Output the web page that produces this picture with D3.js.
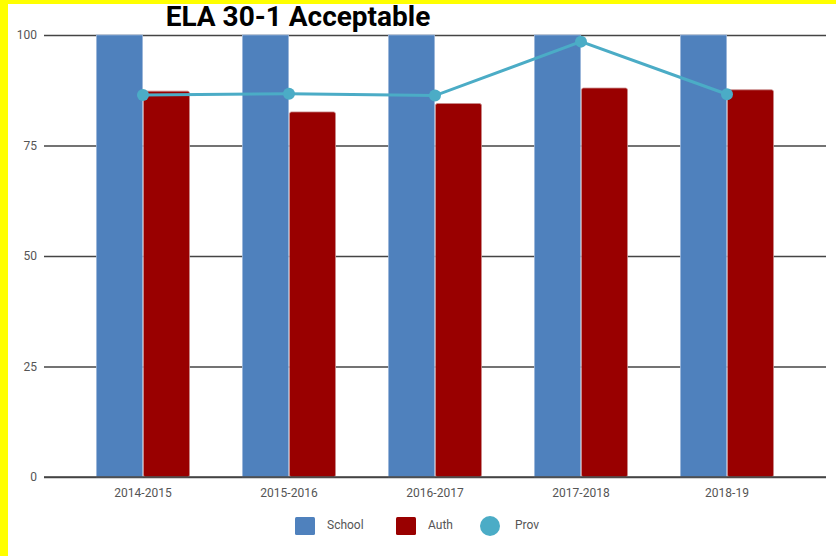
<!DOCTYPE html>
<html>
<head>
<meta charset="utf-8">
<script src="https://cdn.jsdelivr.net/npm/d3@7"></script>
<style>
    body { margin: 0; background: #fff; }
    svg { display: block; }
</style>
</head>
<body>
<svg id="chart"></svg>
<script>
// chart data
const categories = ["2014-2015", "2015-2016", "2016-2017", "2017-2018", "2018-19"];
const schoolValues = [100, 100, 100, 100, 100];
const authValues = [87.3, 82.6, 84.5, 88.0, 87.6];
const provValues = [86.4, 86.7, 86.3, 98.5, 86.6];
const yTicks = [0, 25, 50, 75, 100];
const seriesNames = ["School", "Auth", "Prov"];
const colors = {School: "#4f81bd", Auth: "#990000", Prov: "#4bacc6"};

const width = 836, height = 556;

const svg = d3.select("#chart")
    .attr("width", width)
    .attr("height", height);

// frame: white page with yellow strip top and left
svg.append("rect").attr("width", width).attr("height", height).attr("fill", "#ffff00");
svg.append("rect").attr("x", 8).attr("y", 4).attr("width", width - 8).attr("height", height - 4).attr("fill", "#fff");

const x = d3.scaleBand()
    .domain(categories)
    .range([70, 800]);

const xInner = d3.scaleBand()
    .domain(["School", "Auth"])
    .range([0, 94]);

const y = d3.scaleLinear()
    .domain([0, 100])
    .range([477, 35]);

// gridlines
const yAxis = d3.axisLeft(y)
    .tickValues(yTicks)
    .tickSize(-(826 - 44))
    .tickPadding(7);

const yAxisG = svg.append("g")
    .attr("transform", "translate(44,0)")
    .call(yAxis);
yAxisG.select(".domain").remove();
yAxisG.selectAll(".tick line")
    .attr("stroke", "#444")
    .attr("stroke-width", 1.6);
yAxisG.selectAll(".tick text")
    .attr("fill", "#555")
    .style("font-family", "Roboto, sans-serif")
    .style("font-size", "12px");

// bars
const groups = svg.append("g").selectAll("g")
    .data(categories)
    .enter().append("g")
    .attr("transform", d => "translate(" + (x(d) + x.bandwidth() / 2 - 47) + ",0)");

groups.each(function (cat, i) {
    const g = d3.select(this);
    [["School", schoolValues[i]], ["Auth", authValues[i]]].forEach(([name, v]) => {
        g.append("rect")
            .attr("x", xInner(name) + 0.5)
            .attr("width", xInner.bandwidth() - 1)
            .attr("y", y(v))
            .attr("height", y(0) - y(v))
            .attr("rx", name === "Auth" ? 2 : 0)
            .attr("fill", colors[name])
            .attr("stroke", name === "Auth" ? "#c98a8a" : "#9ab5d9")
            .attr("stroke-width", 0.8);
    });
});

// baseline redrawn over bars
svg.append("line")
    .attr("x1", 44).attr("x2", 826)
    .attr("y1", y(0)).attr("y2", y(0))
    .attr("stroke", "#444").attr("stroke-width", 1.6);

// x axis labels
const xAxis = d3.axisBottom(x).tickSize(0).tickPadding(11);
const xAxisG = svg.append("g")
    .attr("transform", "translate(0," + y(0) + ")")
    .call(xAxis);
xAxisG.select(".domain").remove();
xAxisG.selectAll("text")
    .attr("fill", "#555")
    .style("font-family", "Roboto, sans-serif")
    .style("font-size", "12px");

// prov line
const line = d3.line()
    .x((d, i) => x(categories[i]) + x.bandwidth() / 2)
    .y(d => y(d));

svg.append("path")
    .datum(provValues)
    .attr("d", line)
    .attr("fill", "none")
    .attr("stroke", colors.Prov)
    .attr("stroke-width", 3);

svg.append("g").selectAll("circle")
    .data(provValues)
    .enter().append("circle")
    .attr("cx", (d, i) => x(categories[i]) + x.bandwidth() / 2)
    .attr("cy", d => y(d))
    .attr("r", 6)
    .attr("fill", colors.Prov);

// title
svg.append("text")
    .attr("x", 298)
    .attr("y", 26)
    .attr("text-anchor", "middle")
    .style("font-family", "Roboto, sans-serif")
    .style("font-weight", "bold")
    .style("font-size", "28px")
    .attr("fill", "#000")
    .text("ELA 30-1 Acceptable");

// legend
const legendX = [295, 396, 480];
const legend = svg.append("g").selectAll("g")
    .data(seriesNames)
    .enter().append("g")
    .attr("transform", (d, i) => "translate(" + legendX[i] + ",517)");

legend.each(function (name) {
    const g = d3.select(this);
    if (name === "Prov") {
        g.append("circle").attr("cx", 10).attr("cy", 9).attr("r", 10).attr("fill", colors[name]);
    } else {
        g.append("rect").attr("width", 20).attr("height", 18).attr("rx", 1.5)
            .attr("fill", colors[name]);
    }
    g.append("text")
        .attr("x", name === "Prov" ? 35 : 32)
        .attr("y", 8)
        .attr("dy", "0.35em")
        .attr("fill", "#555")
        .style("font-family", "Roboto, sans-serif")
        .style("font-size", "12px")
        .text(name);
});
</script>
</body>
</html>
